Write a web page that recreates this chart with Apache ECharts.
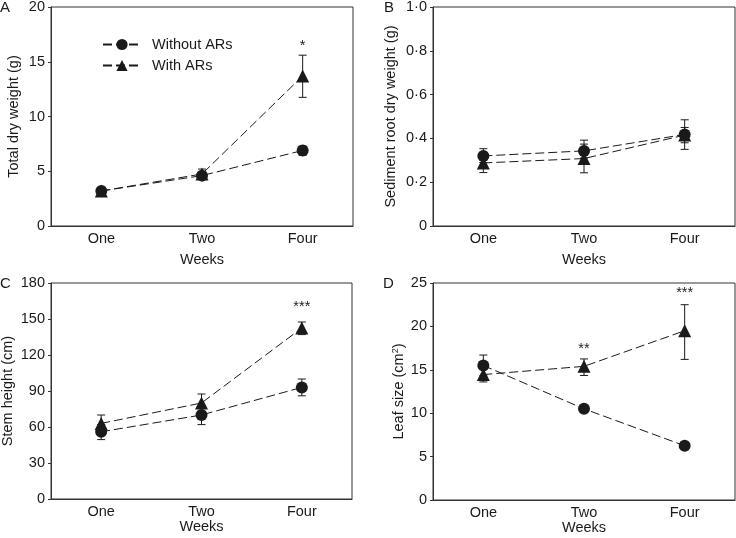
<!DOCTYPE html>
<html>
<head>
<meta charset="utf-8">
<script src="https://cdn.jsdelivr.net/npm/echarts@6/dist/echarts.min.js"></script>
<style>html,body{margin:0;padding:0;background:#fff}#c{width:736px;height:538px}</style>
</head>
<body>
<div id="c"></div>
<script>
// ---- Data ----
const weeks = ['One', 'Two', 'Four'];
const seriesNames = ['Without ARs', 'With ARs'];

// Panel A: Total dry weight (g)
const aWithout = [3.2, 4.6, 6.9];
const aWithoutLo = [3.0, 4.4, 6.45];
const aWithoutHi = [3.4, 4.8, 7.3];
const aWith = [3.2, 4.75, 13.7];
const aWithLo = [3.0, 4.4, 11.75];
const aWithHi = [3.4, 5.2, 15.6];
const aStars = [['Four', 16.4, '*']];

// Panel B: Sediment root dry weight (g)
const bWithout = [0.32, 0.343, 0.418];
const bWithoutLo = [0.29, 0.31, 0.35];
const bWithoutHi = [0.353, 0.374, 0.485];
const bWith = [0.288, 0.308, 0.415];
const bWithLo = [0.244, 0.243, 0.38];
const bWithHi = [0.33, 0.392, 0.45];
const bStars = [];
const bTickLabels = ['0', '0·2', '0·4', '0·6', '0·8', '1·0'];

// Panel C: Stem height (cm)
const cWithout = [56, 70, 93];
const cWithoutLo = [49.5, 62, 86];
const cWithoutHi = [62, 77, 100];
const cWith = [63, 80, 142.5];
const cWithLo = [57, 72, 137];
const cWithHi = [70, 87.5, 147.5];
const cStars = [['Four', 160, '***']];

// Panel D: Leaf size (cm2)
const dWithout = [15.5, 10.5, 6.25];
const dWithoutLo = [14.3, 10.2, 6.0];
const dWithoutHi = [16.7, 10.8, 6.5];
const dWith = [14.45, 15.4, 19.5];
const dWithLo = [13.6, 14.35, 16.2];
const dWithHi = [15.3, 16.25, 22.5];
const dStars = [['Two', 17.4, '**'], ['Four', 23.9, '***']];

// ---- Layout ----
const FONT = 'Liberation Sans, Arial, sans-serif';
const FS = 14.5;
const INK = '#1a1a1a';
const AX = '#333';

const grids = [
  {left: 51, top: 7, width: 302, height: 219},
  {left: 433, top: 7, width: 302, height: 219},
  {left: 51, top: 283, width: 301, height: 216},
  {left: 433, top: 283, width: 302, height: 217}
];
const xNameGap = [26, 26, 18, 18];
const yCfg = [
  {min: 0, max: 20, interval: 5, name: 'Total dry weight (g)', gap: 30},
  {min: 0, max: 1, interval: 0.2, name: 'Sediment root dry weight (g)', gap: 35, labels: bTickLabels},
  {min: 0, max: 180, interval: 30, name: 'Stem height (cm)', gap: 36},
  {min: 0, max: 25, interval: 5, name: 'Leaf size (cm{sup|2})', gap: 25}
];
const panels = [
  {wo: aWithout, woLo: aWithoutLo, woHi: aWithoutHi, w: aWith, wLo: aWithLo, wHi: aWithHi, stars: aStars},
  {wo: bWithout, woLo: bWithoutLo, woHi: bWithoutHi, w: bWith, wLo: bWithLo, wHi: bWithHi, stars: bStars},
  {wo: cWithout, woLo: cWithoutLo, woHi: cWithoutHi, w: cWith, wLo: cWithLo, wHi: cWithHi, stars: cStars},
  {wo: dWithout, woLo: dWithoutLo, woHi: dWithoutHi, w: dWith, wLo: dWithLo, wHi: dWithHi, stars: dStars}
];

const xAxes = grids.map((g, i) => ({
  type: 'category', gridIndex: i, data: weeks, boundaryGap: true,
  name: 'Weeks', nameLocation: 'middle', nameGap: xNameGap[i],
  nameTextStyle: {fontFamily: FONT, fontSize: FS, color: INK},
  axisLine: {lineStyle: {color: AX, width: 1}},
  axisTick: {alignWithLabel: true, length: 3, lineStyle: {color: AX}},
  axisLabel: {fontFamily: FONT, fontSize: FS, color: INK, margin: 5},
  splitLine: {show: false}
}));
const yAxes = yCfg.map((c, i) => ({
  type: 'value', gridIndex: i, min: c.min, max: c.max, interval: c.interval,
  name: c.name, nameLocation: 'middle', nameGap: c.gap, nameRotate: 90,
  nameTextStyle: {fontFamily: FONT, fontSize: FS, color: INK,
    rich: {sup: {fontFamily: FONT, fontSize: 9, color: INK, verticalAlign: 'top', padding: [0, 0, 7, 0]}}},
  axisLine: {show: true, lineStyle: {color: AX, width: 1}},
  axisTick: {show: true, length: 3, lineStyle: {color: AX}},
  axisLabel: {fontFamily: FONT, fontSize: FS, color: INK, margin: 6,
    formatter: c.labels ? (v => c.labels[Math.round((v - c.min) / c.interval)]) : (v => String(v))},
  splitLine: {show: false}
}));

function errRender(params, api) {
  const idx = api.value(0);
  const lo = api.coord([idx, api.value(1)]);
  const hi = api.coord([idx, api.value(2)]);
  const w = 4;
  const st = {stroke: INK, lineWidth: 1};
  return {type: 'group', children: [
    {type: 'line', shape: {x1: lo[0], y1: lo[1], x2: hi[0], y2: hi[1]}, style: st},
    {type: 'line', shape: {x1: lo[0] - w, y1: lo[1], x2: lo[0] + w, y2: lo[1]}, style: st},
    {type: 'line', shape: {x1: hi[0] - w, y1: hi[1], x2: hi[0] + w, y2: hi[1]}, style: st}
  ]};
}

const series = [];
panels.forEach((p, i) => {
  const errData = [];
  weeks.forEach((wk, k) => {
    errData.push([k, p.woLo[k], p.woHi[k]]);
    errData.push([k, p.wLo[k], p.wHi[k]]);
  });
  series.push({type: 'custom', xAxisIndex: i, yAxisIndex: i, renderItem: errRender, data: errData, z: 1, silent: true});
  series.push({type: 'line', name: seriesNames[0], xAxisIndex: i, yAxisIndex: i, data: p.wo,
    symbol: 'circle', symbolSize: 12, itemStyle: {color: INK},
    lineStyle: {color: INK, width: 1, type: [9, 4]}, z: 3});
  series.push({type: 'line', name: seriesNames[1], xAxisIndex: i, yAxisIndex: i, data: p.w,
    symbol: 'triangle', symbolSize: 13, itemStyle: {color: INK},
    lineStyle: {color: INK, width: 1, type: [9, 4]}, z: 3});
  if (p.stars.length) {
    series.push({type: 'custom', xAxisIndex: i, yAxisIndex: i, silent: true, z: 4,
      data: p.stars.map(s => [weeks.indexOf(s[0]), s[1]]),
      renderItem: (params, api) => {
        const d = p.stars[params.dataIndex];
        const pt = api.coord([api.value(0), api.value(1)]);
        return {type: 'text', style: {text: d[2], x: pt[0], y: pt[1], align: 'center', verticalAlign: 'middle',
          fontFamily: FONT, fontSize: FS, fill: INK}};
      }});
  }
});

const letters = [['A', 0, 0], ['B', 384, 0], ['C', 0, 276], ['D', 383, 276]];

const option = {
  animation: false,
  backgroundColor: '#fff',
  grid: grids.map(g => Object.assign({show: true, borderColor: AX, borderWidth: 1, backgroundColor: 'transparent',
    containLabel: false, outerBoundsMode: 'none'}, g)),
  xAxis: xAxes,
  yAxis: yAxes,
  legend: {
    data: seriesNames, orient: 'vertical', left: 97, top: 32,
    itemWidth: 38, itemHeight: 14, itemGap: 6,
    textStyle: {fontFamily: FONT, fontSize: FS, color: INK, padding: [0, 0, 0, 6]},
    selectedMode: false
  },
  graphic: letters.map(l => ({type: 'text', left: l[1], top: l[2],
    style: {text: l[0], fontFamily: FONT, fontSize: 15, fill: INK}})),
  series: series
};
echarts.init(document.getElementById('c'), null, {renderer: 'canvas'}).setOption(option);
</script>
</body>
</html>
